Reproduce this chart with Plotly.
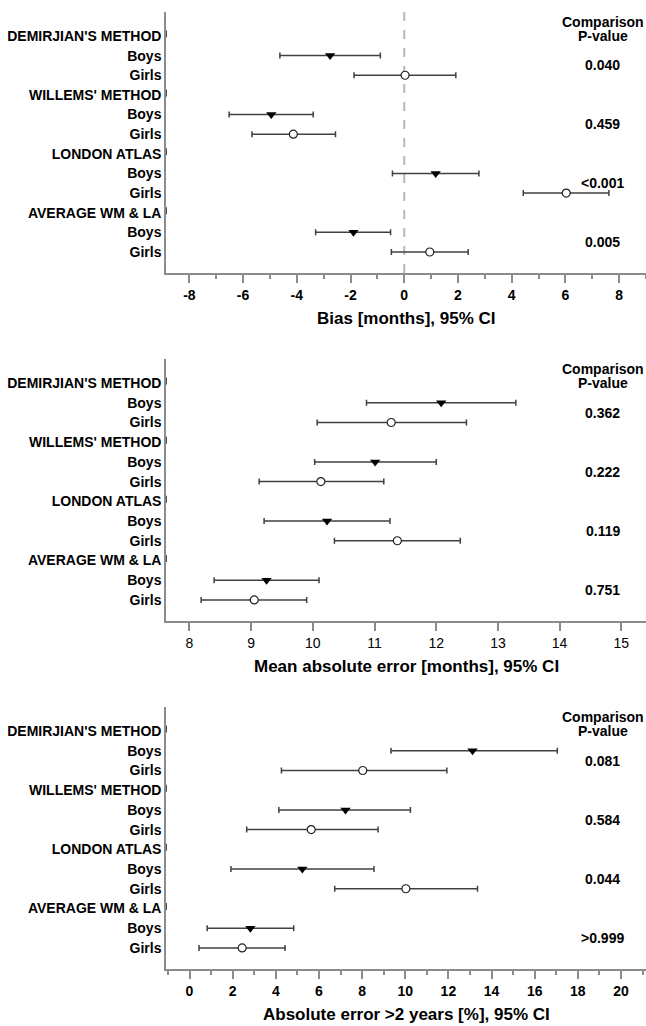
import plotly.graph_objects as go

# ---------------- data ----------------
row_labels = ["DEMIRJIAN'S METHOD", "Boys", "Girls",
              "WILLEMS' METHOD", "Boys", "Girls",
              "LONDON ATLAS", "Boys", "Girls",
              "AVERAGE WM & LA", "Boys", "Girls"]
header_rows = [0, 3, 6, 9]
boys_rows = [1, 4, 7, 10]
girls_rows = [2, 5, 8, 11]

# Panel 1: Bias [months]
bias_boys = [-2.76, -4.95, 1.17, -1.89]
bias_boys_lo = [-4.63, -6.52, -0.44, -3.30]
bias_boys_hi = [-0.89, -3.39, 2.78, -0.51]
bias_girls = [0.03, -4.13, 6.03, 0.95]
bias_girls_lo = [-1.87, -5.67, 4.43, -0.48]
bias_girls_hi = [1.92, -2.56, 7.62, 2.38]
bias_p = ["0.040", "0.459", "<0.001", "0.005"]

# Panel 2: Mean absolute error [months]
mae_boys = [12.08, 11.01, 10.23, 9.25]
mae_boys_lo = [10.87, 10.03, 9.21, 8.40]
mae_boys_hi = [13.29, 12.00, 11.25, 10.10]
mae_girls = [11.27, 10.13, 11.37, 9.05]
mae_girls_lo = [10.07, 9.13, 10.35, 8.19]
mae_girls_hi = [12.49, 11.15, 12.39, 9.90]
mae_p = ["0.362", "0.222", "0.119", "0.751"]

# Panel 3: Absolute error > 2 years [%]
ae_boys = [13.12, 7.23, 5.23, 2.82]
ae_boys_lo = [9.34, 4.14, 1.92, 0.82]
ae_boys_hi = [17.05, 10.24, 8.55, 4.83]
ae_girls = [8.03, 5.64, 10.03, 2.44]
ae_girls_lo = [4.26, 2.65, 6.73, 0.44]
ae_girls_hi = [11.93, 8.74, 13.35, 4.43]
ae_p = ["0.081", "0.584", "0.044", ">0.999"]

x_titles = ["Bias [months], 95% CI",
            "Mean absolute error [months], 95% CI",
            "Absolute error >2 years [%], 95% CI"]
x_ranges = [[-8.87, 9.0], [7.62, 15.4], [-1.09, 21.16]]
x_tickvals = [[-8, -6, -4, -2, 0, 2, 4, 6, 8],
              [8, 9, 10, 11, 12, 13, 14, 15],
              [0, 2, 4, 6, 8, 10, 12, 14, 16, 18, 20]]
x_ticktext = [["-8", "-6", "-4", "-2", "0", "2", "4", "6", "8"],
              ["8", "9", "10", "11", "12", "13", "14", "15"],
              ["0", "2", "4", "6", "8", "10", "12", "14", "16", "18", "20"]]
x_minor = [1, None, 1]
p_header = ["Comparison", "P-value"]

panels = [
    (bias_boys, bias_boys_lo, bias_boys_hi, bias_girls, bias_girls_lo, bias_girls_hi, bias_p),
    (mae_boys, mae_boys_lo, mae_boys_hi, mae_girls, mae_girls_lo, mae_girls_hi, mae_p),
    (ae_boys, ae_boys_lo, ae_boys_hi, ae_girls, ae_girls_lo, ae_girls_hi, ae_p),
]

# ---------------- layout geometry ----------------
H = 1026
px_domains = [(12, 273), (359, 621), (707, 969)]
y_range = [12.07, -1.22]
FONT = "Liberation Sans, Arial, sans-serif"
ERR_COL = "#404040"
AX_COL = "#8c8c8c"
P_X = 0.91

fig = go.Figure()
annotations = []
shapes = []

for k, (bv, blo, bhi, gv, glo, ghi, pv) in enumerate(panels):
    n = k + 1
    xa = "x" if n == 1 else f"x{n}"
    ya = "y" if n == 1 else f"y{n}"
    xkey = "xaxis" if n == 1 else f"xaxis{n}"
    ykey = "yaxis" if n == 1 else f"yaxis{n}"
    top, bot = px_domains[k]

    # small marks on the axis at group headers
    fig.add_trace(go.Scatter(
        x=[x_ranges[k][0]] * len(header_rows), y=[r - 0.1 for r in header_rows],
        mode="markers", marker=dict(symbol="line-ns", size=5, line=dict(color="#111", width=1.5)),
        xaxis=xa, yaxis=ya, showlegend=False, hoverinfo="skip", cliponaxis=False))

    # boys
    fig.add_trace(go.Scatter(
        x=bv, y=boys_rows, mode="markers", xaxis=xa, yaxis=ya, showlegend=False,
        marker=dict(symbol="triangle-down", size=9, color="black", line=dict(width=0)),
        error_x=dict(type="data", symmetric=False,
                     array=[h - v for h, v in zip(bhi, bv)],
                     arrayminus=[v - l for v, l in zip(bv, blo)],
                     color=ERR_COL, thickness=1.5, width=3)))
    # girls
    fig.add_trace(go.Scatter(
        x=gv, y=girls_rows, mode="markers", xaxis=xa, yaxis=ya, showlegend=False,
        marker=dict(symbol="circle", size=8, color="white", line=dict(color="#222", width=1.2)),
        error_x=dict(type="data", symmetric=False,
                     array=[h - v for h, v in zip(ghi, gv)],
                     arrayminus=[v - l for v, l in zip(gv, glo)],
                     color=ERR_COL, thickness=1.5, width=3)))

    bold_ticks = (k != 1)
    xax = dict(
        domain=[0, 1], anchor=ya, range=x_ranges[k],
        tickvals=x_tickvals[k], ticktext=x_ticktext[k],
        showgrid=False, zeroline=False, showline=True, linecolor=AX_COL, linewidth=1.5,
        ticks="outside", ticklen=8, tickwidth=1.5, tickcolor=AX_COL,
        ticklabelstandoff=0,
        tickfont=dict(family=FONT, size=14, color="black",
                      weight="bold" if bold_ticks else "normal"),
    )
    if x_minor[k]:
        xax["minor"] = dict(dtick=x_minor[k], tick0=0, ticks="outside", ticklen=4,
                            tickwidth=1.5, tickcolor=AX_COL, showgrid=False)
    fig.layout[xkey] = xax
    fig.layout[ykey] = dict(
        domain=[1 - bot / H, 1 - top / H], anchor=xa, range=y_range,
        tickvals=list(range(len(row_labels))), ticktext=row_labels,
        showgrid=False, zeroline=False, showline=True, linecolor=AX_COL, linewidth=1.5,
        ticks="", ticklabelstandoff=0,
        tickfont=dict(family=FONT, size=14, color="black", weight="bold"),
    )

    # x-axis title
    annotations.append(dict(
        text=f"<b>{x_titles[k]}</b>", xref=f"{xa} domain", yref=f"{ya} domain",
        x=0.5, y=0, yshift=-45, xanchor="center", yanchor="middle", showarrow=False,
        font=dict(family=FONT, size=17, color="black")))

    # p-value header
    annotations.append(dict(
        text=f"<b>{p_header[0]}</b>", xref=f"{xa} domain", yref=ya,
        x=P_X, y=-0.72, xanchor="center", yanchor="middle", showarrow=False,
        font=dict(family=FONT, size=14, color="black")))
    annotations.append(dict(
        text=f"<b>{p_header[1]}</b>", xref=f"{xa} domain", yref=ya,
        x=P_X, y=0.0, xanchor="center", yanchor="middle", showarrow=False,
        font=dict(family=FONT, size=14, color="black")))
    # p-values
    for j, p in enumerate(pv):
        annotations.append(dict(
            text=f"<b>{p}</b>", xref=f"{xa} domain", yref=ya,
            x=P_X, y=(boys_rows[j] + girls_rows[j]) / 2, xanchor="center", yanchor="middle",
            showarrow=False, font=dict(family=FONT, size=14, color="black")))

# dashed reference line at 0 in the bias panel
shapes.append(dict(type="line", xref="x", yref="y domain", x0=0, x1=0, y0=0, y1=1,
                   line=dict(color="#b8b8b8", width=2, dash="dash"), layer="below"))

fig.update_layout(
    width=646, height=1026,
    margin=dict(l=166, r=0, t=0, b=0),
    paper_bgcolor="white", plot_bgcolor="white",
    annotations=annotations, shapes=shapes,
    font=dict(family=FONT, size=14, color="black"),
)

fig.write_html("out.html",
               config={"displayModeBar": False},
               post_script="document.body.style.margin='0';document.body.style.overflow='hidden';")
